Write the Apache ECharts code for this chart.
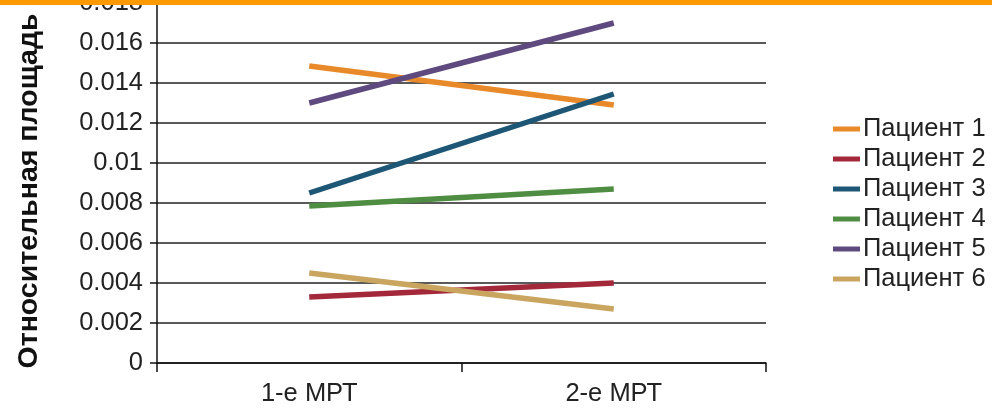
<!DOCTYPE html>
<html>
<head>
<meta charset="utf-8">
<script src="https://cdn.jsdelivr.net/npm/echarts@6/dist/echarts.min.js"></script>
<style>
  html, body { margin: 0; padding: 0; background: #fff; }
  #chart { width: 992px; height: 410px; }
</style>
</head>
<body>
<div id="chart"></div>
<script>
// Two MRI scans per patient
const categories = ['1-е МРТ', '2-е МРТ'];
const seriesNames = ['Пациент 1', 'Пациент 2', 'Пациент 3', 'Пациент 4', 'Пациент 5', 'Пациент 6'];
const patient1 = [0.01485, 0.0129];
const patient2 = [0.0033, 0.0040];
const patient3 = [0.0085, 0.01345];
const patient4 = [0.00785, 0.0087];
const patient5 = [0.0130, 0.0170];
const patient6 = [0.0045, 0.0027];
const colors = ['#E8892A', '#A3283A', '#1E5676', '#4F8D42', '#5E4A7E', '#C9A560'];
const yAxisTitle = 'Относительная площадь';

const values = [patient1, patient2, patient3, patient4, patient5, patient6];
const font = 'Liberation Sans, Arial, sans-serif';

const chart = echarts.init(document.getElementById('chart'), null, { renderer: 'canvas' });
chart.setOption({
  animation: false,
  color: colors,
  grid: { left: 157, right: 226, top: 3, bottom: 47, outerBoundsMode: 'none', containLabel: false },
  legend: {
    orient: 'vertical',
    left: 828,
    top: 111,
    icon: 'rect',
    itemWidth: 27,
    itemHeight: 5,
    itemGap: 4,
    textStyle: { fontFamily: font, fontSize: 25.5, color: '#222', padding: [0, 0, 0, -2] },
    data: seriesNames
  },
  xAxis: {
    type: 'category',
    data: categories,
    boundaryGap: true,
    axisLine: { lineStyle: { color: '#111', width: 1.5 } },
    axisTick: { show: true, alignWithLabel: false, length: 9, lineStyle: { color: '#111', width: 1.5 } },
    axisLabel: { fontFamily: font, fontSize: 25.5, color: '#222', margin: 18 }
  },
  yAxis: {
    type: 'value',
    min: 0,
    max: 0.018,
    interval: 0.002,
    axisLine: { show: true, lineStyle: { color: '#111', width: 1.5 } },
    axisTick: { show: true, length: 7, lineStyle: { color: '#111', width: 1.5 } },
    splitLine: { lineStyle: { color: '#222', width: 1.5 } },
    axisLabel: {
      fontFamily: font, fontSize: 25.5, color: '#222', margin: 14,
      formatter: v => String(parseFloat(v.toFixed(3)))
    }
  },
  series: seriesNames.map((name, i) => ({
    name,
    type: 'line',
    data: values[i],
    symbol: 'none',
    lineStyle: { width: 5.5, color: colors[i] },
    itemStyle: { color: colors[i] }
  })),
  graphic: [
    {
      type: 'text',
      x: 29,
      y: 191,
      rotation: Math.PI / 2,
      style: {
        text: yAxisTitle,
        fontFamily: font,
        fontWeight: 'bold',
        fontSize: 28.5,
        fill: '#111',
        textAlign: 'center',
        textVerticalAlign: 'middle'
      }
    },
    {
      type: 'rect',
      z: 100,
      shape: { x: 0, y: 0, width: 992, height: 5 },
      style: { fill: '#FF9900' }
    }
  ]
});
</script>
</body>
</html>
